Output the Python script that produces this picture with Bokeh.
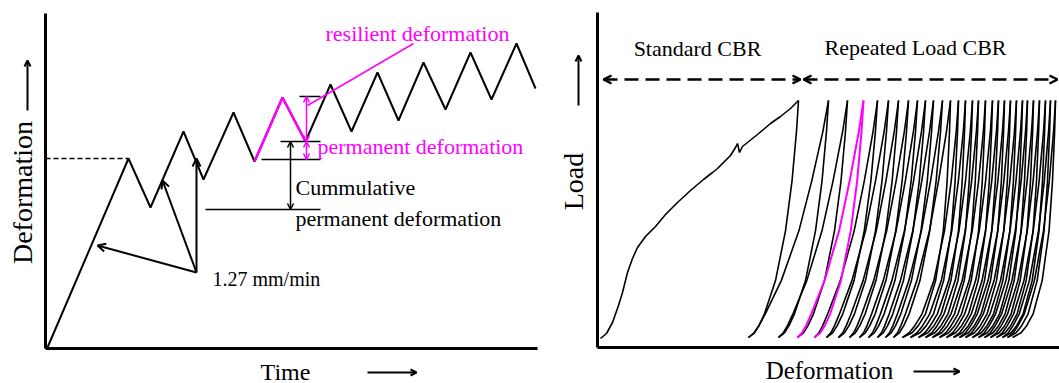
import math
from bokeh.plotting import figure
from bokeh.layouts import row
from bokeh.models import Range1d, Label, Arrow, OpenHead, FixedTicker
from bokeh.embed import file_html
from bokeh.resources import INLINE

FONT = "Liberation Serif"
MAGENTA = "#ff00ff"

# ---------------- Left panel: deformation vs time (schematic) ----------------
time_pts = [2, 83, 105, 138, 158, 188, 209, 237, 260, 285, 306, 332, 353, 378, 400, 425, 446, 471, 490]
defo_pts = [1, 190, 141, 217, 169, 236, 187, 251, 207, 264, 217, 276, 228, 286, 239, 296, 249, 305, 260]
highlight_cycle = (6, 9)          # slice of points drawn in magenta
first_peak_defo = 190             # dashed level
cum_base_defo = 139               # lower reference level
prev_valley_defo = 189
valley_defo = 207
peak_defo = 252
time_max, defo_max = 492, 335

# ---------------- Right panel: load vs deformation (schematic) ----------------
cbr_defo = [3, 9, 15, 21, 25, 30, 35, 40, 48, 58, 68, 80, 93, 106, 115, 120, 133, 138, 140, 142, 145, 160, 173, 183, 193, 201]
cbr_load = [9, 14, 25, 42, 55, 75, 89, 100, 111, 121, 133, 145, 157, 168, 175, 179, 192, 200, 204, 195, 201, 213, 224, 231, 239, 247]
peak_defo_r = [201, 231, 250, 266, 280, 291, 301, 311, 320, 328, 336, 345, 353, 361, 368, 375, 381, 388,
               395, 401, 407, 413, 419, 425, 430, 436, 442, 448, 453, 458]
bottom_defo_r = [151, 181, 200, 217, 229, 241, 252, 262, 271, 280, 288, 296, 305, 313, 321, 328, 335, 342,
                 349, 356, 362, 368, 375, 381, 387, 393, 399, 405, 410, 415]
load_min, load_max = 10, 247
defo_max_r, load_axis_max = 462, 335
# shape of reload / unload branches: (fraction of load, fraction of horizontal span)
branch_h = [0, 0.02, 0.05, 0.10, 0.24, 0.45, 0.66, 0.87, 1.0]
reload_f_early = [0, 0.07, 0.13, 0.21, 0.41, 0.63, 0.79, 0.93, 1.0]
unload_f_early = [0, 0.12, 0.21, 0.32, 0.54, 0.74, 0.87, 0.96, 1.0]
reload_f_late = [0, 0.12, 0.22, 0.35, 0.56, 0.75, 0.87, 0.96, 1.0]
unload_f_late = [0, 0.20, 0.33, 0.48, 0.69, 0.85, 0.93, 0.98, 1.0]
late_from_cycle = 12
highlight_reload = 2   # reload from bottom 2 to peak 3
highlight_unload = 3   # unload from peak 3 to bottom 3


def style(p, xmax, ymax):
    p.grid.visible = False
    p.outline_line_color = None
    p.background_fill_color = "white"
    p.border_fill_color = "white"
    p.xaxis.fixed_location = 0
    p.yaxis.fixed_location = 0
    p.xaxis.bounds = (0, xmax)
    p.yaxis.bounds = (0, ymax)
    for ax in (p.xaxis, p.yaxis):
        ax.ticker = FixedTicker(ticks=[])
        ax.major_tick_out = 0
        ax.major_tick_in = 0
        ax.minor_tick_out = 0
        ax.minor_tick_in = 0
        ax.major_label_text_font_size = "0px"
        ax.major_label_standoff = 0
        ax.axis_line_width = 3
        ax.axis_line_color = "black"


def lab(p, x, y, text, size, color="black", align="left", angle=0.0):
    p.add_layout(Label(x=x, y=y, text=text, text_font=FONT, text_font_size=size,
                       text_color=color, text_align=align, text_baseline="middle", angle=angle))


def arrow(p, x0, y0, x1, y1, color="black", width=2, size=8, both=False, dash="solid"):
    p.add_layout(Arrow(x_start=x0, y_start=y0, x_end=x1, y_end=y1, line_color=color,
                       line_width=width, line_dash=dash,
                       end=OpenHead(size=size, line_color=color, line_width=width),
                       start=OpenHead(size=size, line_color=color, line_width=width) if both else None))


# ---------- left figure ----------
p1 = figure(width=540, height=383, x_range=Range1d(-45, 495), y_range=Range1d(-35, 348),
            output_backend="svg", toolbar_location=None, min_border=0)
style(p1, time_max, defo_max)

p1.line([0, time_pts[1]], [first_peak_defo, first_peak_defo], line_color="black", line_width=1.5, line_dash="5 3")
p1.line(time_pts, defo_pts, line_color="black", line_width=2)
a, b = highlight_cycle
p1.line(time_pts[a:b], defo_pts[a:b], line_color=MAGENTA, line_width=2.5)

# reference horizontal lines
p1.line([160, 275], [cum_base_defo, cum_base_defo], line_color="black", line_width=1.5)
p1.line([216, 275], [prev_valley_defo, prev_valley_defo], line_color="black", line_width=1.5)
p1.line([235, 275], [valley_defo, valley_defo], line_color="black", line_width=1.5)
p1.line([254, 275], [peak_defo, peak_defo], line_color="black", line_width=1.5)

# cumulative permanent deformation double arrow
arrow(p1, 245, cum_base_defo, 245, valley_defo, width=1.5, size=6, both=True)
# resilient / permanent arrows (magenta)
arrow(p1, 261, valley_defo, 261, peak_defo, color=MAGENTA, width=1.5, size=6, both=True)
arrow(p1, 261, prev_valley_defo, 261, valley_defo, color=MAGENTA, width=1.5, size=6, both=True)
p1.line([262, 368], [243, 305], line_color=MAGENTA, line_width=1.5)

# 1.27 mm/min arrows
arrow(p1, 151, 76, 52, 103, width=2, size=8)
arrow(p1, 151, 76, 117, 168, width=2, size=8)
arrow(p1, 151, 76, 151, 190, width=2, size=8)

lab(p1, 280, 315, "resilient deformation", "22px", MAGENTA)
lab(p1, 272, 202, "permanent deformation", "22px", MAGENTA)
lab(p1, 250, 161, "Cummulative", "22px")
lab(p1, 250, 130, "permanent deformation", "22px")
lab(p1, 167, 70, "1.27 mm/min", "20px")

# axis titles
lab(p1, 240, -23, "Time", "24px", align="center")
arrow(p1, 322, -24, 371, -24, width=2, size=6)
lab(p1, -23, 156, "Deformation", "28px", align="center", angle=math.pi / 2)
arrow(p1, -18, 238, -18, 288, width=2, size=6)

# ---------- right figure ----------
p2 = figure(width=519, height=383, x_range=Range1d(-57, 462), y_range=Range1d(-36, 347),
            output_backend="svg", toolbar_location=None, min_border=0)
style(p2, defo_max_r, load_axis_max)


def branch(x_bottom, x_top, fs):
    xs = [x_bottom + f * (x_top - x_bottom) for f in fs]
    ys = [load_min + h * (load_max - load_min) for h in branch_h]
    return xs, ys


bx, by, mx, my = [cbr_defo], [cbr_load], [], []
n = len(peak_defo_r)
for k in range(n):
    late = k >= late_from_cycle
    xs, ys = branch(bottom_defo_r[k], peak_defo_r[k], unload_f_late if late else unload_f_early)
    (mx if k == highlight_unload else bx).append(xs)
    (my if k == highlight_unload else by).append(ys)
    if k + 1 < n:
        xs, ys = branch(bottom_defo_r[k], peak_defo_r[k + 1], reload_f_late if late else reload_f_early)
        (mx if k == highlight_reload else bx).append(xs)
        (my if k == highlight_reload else by).append(ys)

p2.multi_line(bx, by, line_color="black", line_width=1.6)
p2.multi_line(mx, my, line_color=MAGENTA, line_width=2)

# dashed range arrows
arrow(p2, 6, 268, 203, 268, width=2.5, size=8, both=True, dash="14 7")
arrow(p2, 206, 268, 460, 268, width=2.5, size=8, both=True, dash="14 7")
lab(p2, 100, 299, "Standard CBR", "22px", align="center")
lab(p2, 318, 300, "Repeated Load CBR", "22px", align="center")

# axis titles
lab(p2, 232, -23, "Deformation", "25px", align="center")
arrow(p2, 316, -24, 362, -24, width=2, size=6)
lab(p2, -24, 166, "Load", "28px", align="center", angle=math.pi / 2)
arrow(p2, -19, 242, -19, 292, width=2, size=6)

layout = row(p1, p2)
open("out.html", "w").write(file_html(layout, INLINE))
